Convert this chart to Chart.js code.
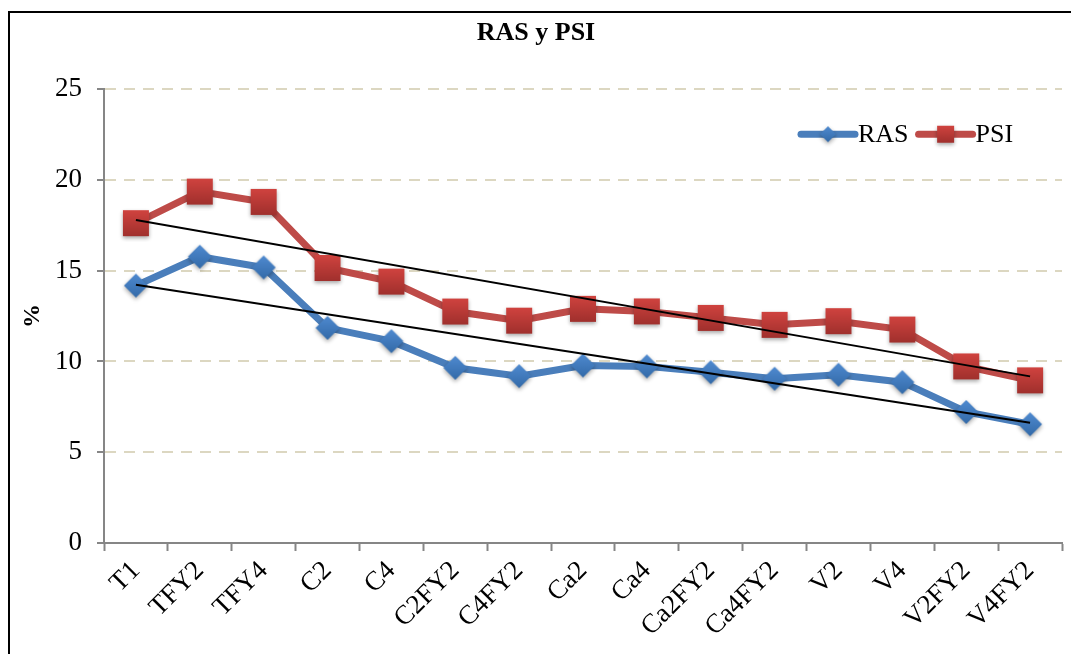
<!DOCTYPE html>
<html>
<head>
<meta charset="utf-8">
<script src="https://cdn.jsdelivr.net/npm/chart.js@4.4.1/dist/chart.umd.min.js"></script>
<style>
  html, body { margin: 0; padding: 0; background: #ffffff; }
  #wrap { width: 1071px; height: 654px; position: relative; }
</style>
</head>
<body>
<div id="wrap"><canvas id="chart"></canvas></div>
<script>
// tratamientos
const labels = ["T1", "TFY2", "TFY4", "C2", "C4", "C2FY2", "C4FY2", "Ca2", "Ca4",
  "Ca2FY2", "Ca4FY2", "V2", "V4", "V2FY2", "V4FY2"];

// RAS y PSI (%)
const ras = [14.18, 15.77, 15.18, 11.85, 11.12, 9.65, 9.19, 9.78, 9.73, 9.41, 9.05, 9.27, 8.86, 7.22, 6.54];
const psi = [17.62, 19.36, 18.79, 15.15, 14.4, 12.75, 12.25, 12.9, 12.76, 12.4, 12.02, 12.22, 11.76, 9.73, 8.96];

// lineas de tendencia (solo extremos)
const rasTrend = [14.23, null, null, null, null, null, null, null, null, null, null, null, null, null, 6.62];
const psiTrend = [17.8, null, null, null, null, null, null, null, null, null, null, null, null, null, 9.18];

const yTicks = [0, 5, 10, 15, 20, 25];

const BLUE = "#4a7ebb";
const RED = "#be4b48";
const FONT = "'Liberation Serif', 'Times New Roman', serif";

// marcador con degradado y sombra
function makeMarker(shape, size, top, bottom) {
  const pad = 6;
  const c = document.createElement("canvas");
  c.width = size + pad * 2;
  c.height = size + pad * 2;
  const g = c.getContext("2d");
  const h = size / 2;
  const cx = c.width / 2, cy = c.height / 2;
  const grad = g.createLinearGradient(0, cy - h, 0, cy + h);
  grad.addColorStop(0, top);
  grad.addColorStop(1, bottom);
  g.shadowColor = "rgba(0,0,0,0.35)";
  g.shadowBlur = 4;
  g.shadowOffsetY = 2;
  g.fillStyle = grad;
  g.beginPath();
  if (shape === "rect") {
    g.rect(cx - h, cy - h, size, size);
  } else {
    g.moveTo(cx, cy - h);
    g.lineTo(cx + h, cy);
    g.lineTo(cx, cy + h);
    g.lineTo(cx - h, cy);
    g.closePath();
  }
  g.fill();
  return c;
}

const squareMark = makeMarker("rect", 26, "#d0433f", "#a0302d");
const diamondMark = makeMarker("diamond", 24, "#4f8ad0", "#336aa8");
const squareSmall = makeMarker("rect", 17, "#d0433f", "#a0302d");
const diamondSmall = makeMarker("diamond", 16, "#4f8ad0", "#336aa8");

// marco del grafico
const framePlugin = {
  id: "frame",
  beforeDraw(chart) {
    const ctx = chart.ctx;
    ctx.save();
    ctx.strokeStyle = "#000000";
    ctx.lineWidth = 2;
    ctx.beginPath();
    ctx.moveTo(9, chart.height);
    ctx.lineTo(9, 12);
    ctx.lineTo(chart.width, 12);
    ctx.stroke();
    ctx.restore();
  }
};

// leyenda con linea + marcador
const legendPlugin = {
  id: "lineLegend",
  afterDraw(chart) {
    const ctx = chart.ctx;
    const items = [
      { text: "RAS", color: BLUE, mark: diamondSmall },
      { text: "PSI", color: RED, mark: squareSmall }
    ];
    ctx.save();
    ctx.font = "26px " + FONT;
    ctx.textBaseline = "middle";
    let x = chart.chartArea.right - 264;
    const y = chart.chartArea.top + 45;
    items.forEach(it => {
      ctx.strokeStyle = it.color;
      ctx.lineWidth = 7;
      ctx.lineCap = "round";
      ctx.beginPath();
      ctx.moveTo(x + 3, y);
      ctx.lineTo(x + 57, y);
      ctx.stroke();
      ctx.drawImage(it.mark, x + 30 - it.mark.width / 2, y - it.mark.height / 2);
      ctx.fillStyle = "#000000";
      ctx.fillText(it.text, x + 60, y + 1);
      x += 60 + ctx.measureText(it.text).width + 7;
    });
    ctx.restore();
  }
};

new Chart(document.getElementById("chart"), {
  type: "line",
  data: {
    labels: labels,
    datasets: [
      {
        label: "RAS tendencia", data: rasTrend, spanGaps: true,
        borderColor: "#000000", borderWidth: 2, pointRadius: 0, order: 0
      },
      {
        label: "PSI tendencia", data: psiTrend, spanGaps: true,
        borderColor: "#000000", borderWidth: 2, pointRadius: 0, order: 0
      },
      {
        label: "RAS", data: ras, borderColor: BLUE, borderWidth: 7,
        pointStyle: diamondMark, pointRadius: 12, order: 1
      },
      {
        label: "PSI", data: psi, borderColor: RED, borderWidth: 7,
        pointStyle: squareMark, pointRadius: 12, order: 1
      }
    ]
  },
  options: {
    responsive: true,
    maintainAspectRatio: false,
    animation: false,
    layout: { autoPadding: false, padding: { left: 10, right: 9, top: 0, bottom: 0 } },
    plugins: {
      legend: { display: false },
      tooltip: { enabled: false },
      title: {
        display: true,
        text: "RAS y PSI",
        color: "#000000",
        font: { family: FONT, size: 26, weight: "bold" },
        padding: { top: 18, bottom: 40 }
      }
    },
    scales: {
      x: {
        offset: true,
        grid: {
          offset: true, drawOnChartArea: false, drawTicks: true,
          tickLength: 8, tickColor: "#868686", tickWidth: 2
        },
        border: { color: "#868686", width: 2 },
        ticks: {
          color: "#000000", minRotation: 45, maxRotation: 45, padding: 4,
          font: { family: FONT, size: 27 }
        },
        afterFit(scale) { scale.height = 111; }
      },
      y: {
        min: 0, max: 25,
        afterBuildTicks(scale) { scale.ticks = yTicks.map(v => ({ value: v })); },
        grid: {
          color: "#dcd7c1", lineWidth: 2,
          tickColor: "#868686", tickLength: 7, tickBorderDash: [], tickWidth: 2
        },
        border: { color: "#868686", width: 2, dash: [11, 8] },
        ticks: {
          color: "#000000", padding: 15,
          font: { family: FONT, size: 27 }
        },
        title: {
          display: true, text: "%", color: "#000000",
          font: { family: FONT, size: 24, weight: "bold" },
          padding: { top: 8, bottom: 0 }
        },
        afterFit(scale) { scale.width = 94; }
      }
    }
  },
  plugins: [framePlugin, legendPlugin]
});
</script>
</body>
</html>
